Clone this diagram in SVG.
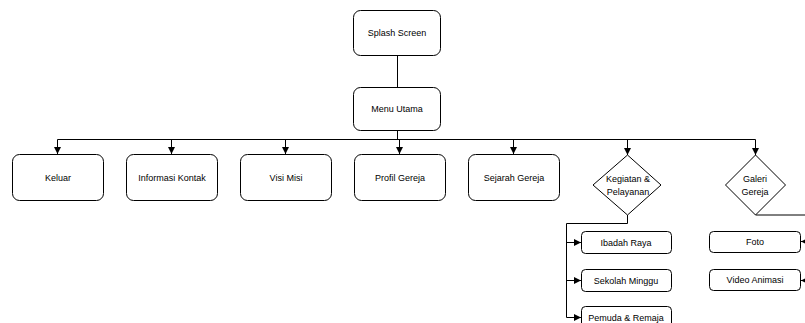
<svg xmlns="http://www.w3.org/2000/svg" width="805" height="323" viewBox="0 0 805 323">
<defs>
<marker id="arr" viewBox="0 0 10 10" refX="10" refY="5" markerWidth="7" markerHeight="7" markerUnits="userSpaceOnUse" orient="auto">
<path d="M0,0 L10,5 L0,10 Z" fill="#000"/>
</marker>
<style>
.box{fill:#fff;stroke:#000;stroke-width:1}
.dia{fill:#fff;stroke:#000;stroke-width:1}
.t{font-family:"Liberation Sans",Arial,sans-serif;font-size:9px;fill:#000;text-anchor:middle;dominant-baseline:central}
.c{fill:none;stroke:#000;stroke-width:1}
</style>
</defs>
<rect width="805" height="323" fill="#fff"/>
<g id="connectors">
<path class="c" d="M397.5 55 V87"/>
<path class="c" d="M397.5 130 V139.5"/>
<path class="c" d="M57.5 139.5 H755.5"/>
<path class="c" d="M57.5 139.5 V154" marker-end="url(#arr)"/>
<path class="c" d="M171.5 139.5 V154" marker-end="url(#arr)"/>
<path class="c" d="M285.5 139.5 V154" marker-end="url(#arr)"/>
<path class="c" d="M399.5 139.5 V154" marker-end="url(#arr)"/>
<path class="c" d="M513.5 139.5 V154" marker-end="url(#arr)"/>
<path class="c" d="M627.5 139.5 V155" marker-end="url(#arr)"/>
<path class="c" d="M755.5 139.5 V155" marker-end="url(#arr)"/>
<path class="c" d="M627.5 215 V223.5 H566.5 V317.5"/>
<path class="c" d="M566.5 242.5 H581" marker-end="url(#arr)"/>
<path class="c" d="M566.5 280.5 H581" marker-end="url(#arr)"/>
<path class="c" d="M566.5 317.5 H581" marker-end="url(#arr)"/>
<path class="c" d="M755.5 215 H815 V280.5" stroke-width="2"/>
<path class="c" d="M815 241.5 H801" marker-end="url(#arr)"/>
<path class="c" d="M815 280.5 H801" marker-end="url(#arr)"/>
</g>
<g id="splash"><rect class="box" x="353.5" y="10.5" width="87" height="45" rx="7"/><text class="t" x="397" y="33">Splash Screen</text></g>
<g id="menu"><rect class="box" x="353.5" y="87.5" width="87" height="43" rx="7"/><text class="t" x="397" y="109">Menu Utama</text></g>
<g id="keluar"><rect class="box" x="12.5" y="154.5" width="91" height="46" rx="7"/><text class="t" x="58" y="178">Keluar</text></g>
<g id="informasi"><rect class="box" x="126.5" y="154.5" width="91" height="46" rx="7"/><text class="t" x="172" y="178">Informasi Kontak</text></g>
<g id="visi"><rect class="box" x="240.5" y="154.5" width="91" height="46" rx="7"/><text class="t" x="286" y="178">Visi Misi</text></g>
<g id="profil"><rect class="box" x="354.5" y="154.5" width="91" height="46" rx="7"/><text class="t" x="400" y="178">Profil Gereja</text></g>
<g id="sejarah"><rect class="box" x="468.5" y="154.5" width="91" height="46" rx="7"/><text class="t" x="514" y="178">Sejarah Gereja</text></g>
<g id="kegiatan"><path class="dia" d="M627.5 155 L661 185 L627.5 215 L593 185 Z"/><text class="t" x="628" y="179">Kegiatan &amp;</text><text class="t" x="628" y="192">Pelayanan</text></g>
<g id="galeri"><path class="dia" d="M755.5 155 L785.5 185 L755.5 215 L725.5 185 Z"/><text class="t" x="755" y="179">Galeri</text><text class="t" x="755" y="192">Gereja</text></g>
<g id="ibadah"><rect class="box" x="581.5" y="231.5" width="90" height="22" rx="4"/><text class="t" x="626" y="242.5">Ibadah Raya</text></g>
<g id="sekolah"><rect class="box" x="581.5" y="269.5" width="90" height="22" rx="4"/><text class="t" x="626" y="280.5">Sekolah Minggu</text></g>
<g id="pemuda"><rect class="box" x="581.5" y="306.5" width="90" height="22" rx="4"/><text class="t" x="626" y="317.5">Pemuda &amp; Remaja</text></g>
<g id="foto"><rect class="box" x="709.5" y="231.5" width="91" height="21" rx="4"/><text class="t" x="755" y="242">Foto</text></g>
<g id="video"><rect class="box" x="709.5" y="269.5" width="91" height="21" rx="4"/><text class="t" x="755" y="280">Video Animasi</text></g>
</svg>
